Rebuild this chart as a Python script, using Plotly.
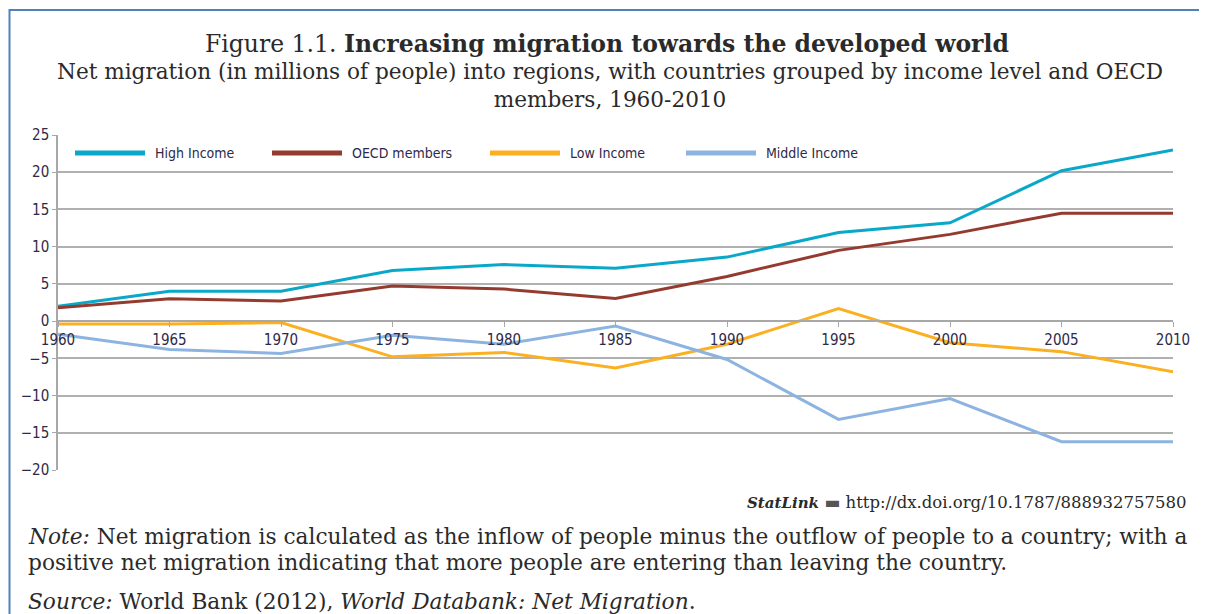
import plotly.graph_objects as go

# Net migration, millions of people
years = [1960, 1965, 1970, 1975, 1980, 1985, 1990, 1995, 2000, 2005, 2010]
high_income = [2.0, 4.0, 4.0, 6.8, 7.6, 7.1, 8.6, 11.9, 13.2, 20.2, 23.0]
oecd_members = [1.8, 3.0, 2.7, 4.7, 4.3, 3.05, 6.0, 9.5, 11.65, 14.5, 14.5]
low_income = [-0.4, -0.4, -0.2, -4.8, -4.2, -6.3, -3.1, 1.7, -2.9, -4.1, -6.8]
middle_income = [-1.75, -3.8, -4.35, -1.9, -3.1, -0.67, -5.15, -13.2, -10.4, -16.2, -16.2]

series_names = ['High Income', 'OECD members', 'Low Income', 'Middle Income']
series_values = [high_income, oecd_members, low_income, middle_income]
series_colors = ['#0AA8C8', '#953A2F', '#FBB022', '#8DB4E0']

y_ticks = [-20, -15, -10, -5, 0, 5, 10, 15, 20, 25]

# the page body has an 8px margin, so the figure is drawn 8px in from the corner
OFF = 8
W, H = 1207 - OFF, 614 - OFF
L, R, T, B = 58, 1173, 135, 470   # plot area, page pixels


def px(x):
    return (x - L) / (R - L)


def py(y):
    return (B - y) / (B - T)


SERIF = 'DejaVu Serif, Liberation Serif, serif'
NARROW = 'Liberation Sans Narrow, DejaVu Sans Condensed, Roboto, sans-serif'
TEXT = '#2a2a2a'
AXTEXT = '#2e2a4a'

fig = go.Figure()
for name, vals, col in zip(series_names, series_values, series_colors):
    fig.add_trace(go.Scatter(x=years, y=vals, mode='lines', name=name,
                             line=dict(color=col, width=3), showlegend=False))

shapes = []
annotations = []

# outer blue frame
shapes.append(dict(type='rect', xref='paper', yref='paper',
                   x0=px(9.5), x1=px(1225), y0=py(640), y1=py(10),
                   line=dict(color='#4F81BD', width=2), layer='below'))

# hand-made legend with long line samples
leg_line_x = [75, 272, 490, 686]
for i, (name, col) in enumerate(zip(series_names, series_colors)):
    x0 = leg_line_x[i]
    shapes.append(dict(type='line', xref='paper', yref='paper',
                       x0=px(x0), x1=px(x0 + 70), y0=py(153), y1=py(153),
                       line=dict(color=col, width=5)))
    annotations.append(dict(xref='paper', yref='paper', x=px(x0 + 78), y=py(153),
                            text=name, showarrow=False, xanchor='left',
                            yanchor='middle',
                            font=dict(family=NARROW, size=14, color=AXTEXT)))

# titles
annotations.append(dict(xref='paper', yref='paper', x=px(607), y=py(44),
                        text='Figure 1.1. <b>Increasing migration towards the developed world</b>',
                        showarrow=False, xanchor='center', yanchor='middle',
                        font=dict(family=SERIF, size=23.5, color=TEXT)))
annotations.append(dict(xref='paper', yref='paper', x=px(610), y=py(86),
                        text='Net migration (in millions of people) into regions, with countries grouped by income level and OECD'
                             '<br>members, 1960-2010',
                        showarrow=False, xanchor='center', yanchor='middle', align='center',
                        font=dict(family=SERIF, size=21.6, color=TEXT)))

# statlink
annotations.append(dict(xref='paper', yref='paper', x=px(1188), y=py(502),
                        text='<b><i><span style="font-size:15px">StatLink</span></i></b> '
                             '<span style="font-size:17px;color:#555555">▬</span> '
                             'http://dx.doi.org/10.1787/888932757580',
                        showarrow=False, xanchor='right', yanchor='middle',
                        font=dict(family=SERIF, size=16.5, color=TEXT)))

# notes
annotations.append(dict(xref='paper', yref='paper', x=px(26), y=py(536),
                        text='<i>Note:</i> Net migration is calculated as the inflow of people minus the outflow of people to a country; with a',
                        showarrow=False, xanchor='left', yanchor='middle',
                        font=dict(family=SERIF, size=21.7, color=TEXT)))
annotations.append(dict(xref='paper', yref='paper', x=px(26), y=py(562),
                        text='positive net migration indicating that more people are entering than leaving the country.',
                        showarrow=False, xanchor='left', yanchor='middle',
                        font=dict(family=SERIF, size=21.7, color=TEXT)))
annotations.append(dict(xref='paper', yref='paper', x=px(26), y=py(601),
                        text='<i>Source:</i> World Bank (2012), <i>World Databank: Net Migration</i>.',
                        showarrow=False, xanchor='left', yanchor='middle',
                        font=dict(family=SERIF, size=21.7, color=TEXT)))

fig.update_layout(
    width=W, height=H,
    margin=dict(l=L - OFF, r=W - (R - OFF), t=T - OFF, b=H - (B - OFF), pad=0),
    paper_bgcolor='white', plot_bgcolor='white',
    shapes=shapes, annotations=annotations,
    xaxis=dict(range=[1960, 2010], tickvals=years, ticktext=[str(y) for y in years],
               anchor='free', position=20 / 45,
               showgrid=False, zeroline=False,
               showline=True, linecolor='#A8A8A8', linewidth=1.5,
               ticks='outside', ticklen=5, tickcolor='#A8A8A8',
               tickfont=dict(family=NARROW, size=15, color=AXTEXT)),
    yaxis=dict(range=[-20, 25], tickvals=y_ticks, domain=[0, 1],
               showgrid=True, gridcolor='#B0B0B0', gridwidth=1.5,
               zeroline=False, showline=True, linecolor='#A8A8A8', linewidth=1.5,
               ticks='outside', ticklen=4, tickcolor='#A8A8A8',
               tickfont=dict(family=NARROW, size=15, color=AXTEXT)),
    showlegend=False,
)

fig.write_html("out.html")
